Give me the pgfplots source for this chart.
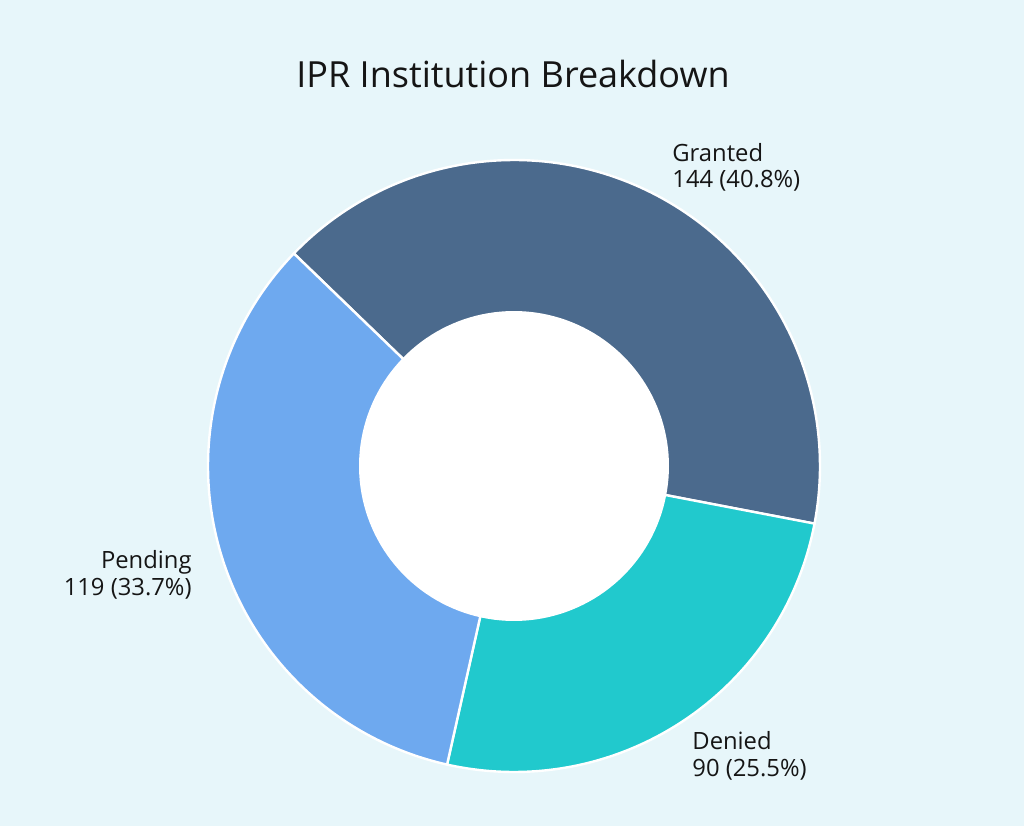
\documentclass[border=0pt]{standalone}
\usepackage{pgfplots}
\pgfplotsset{compat=1.18}
\usepackage{fontspec}
\setmainfont{Open Sans}
\definecolor{bg}{HTML}{E7F6FA}
\definecolor{cG}{HTML}{4B6A8D}
\definecolor{cP}{HTML}{6EA9EF}
\definecolor{cD}{HTML}{21C9CD}
\definecolor{txt}{HTML}{151515}
% data
\def\vGranted{144}
\def\vDenied{90}
\def\vPending{119}
\pgfmathsetmacro\total{\vGranted+\vDenied+\vPending}
\pgfmathsetmacro\aA{136}
\pgfmathsetmacro\aB{\aA-\vGranted/\total*360}
\pgfmathsetmacro\aC{\aB-\vDenied/\total*360}
\pgfmathsetmacro\aD{\aC-\vPending/\total*360}
\def\cx{514}
\def\cy{360}
\def\R{306}
\def\r{155}
\begin{document}
\begin{tikzpicture}
\begin{axis}[
  width=512pt, height=413pt, scale only axis,
  xmin=0, xmax=1024, ymin=0, ymax=826,
  hide axis, clip=false,
]
\fill[bg] (rel axis cs:0,0) rectangle (rel axis cs:1,1);
\addplot[fill=cG, draw=white, line width=1.2pt, domain=\aB:\aA, samples=120, variable=\t]
  ({\cx+\R*cos(t)},{\cy+\R*sin(t)}) -- (axis cs:\cx,\cy) -- cycle;
\addplot[fill=cD, draw=white, line width=1.2pt, domain=\aC:\aB, samples=120, variable=\t]
  ({\cx+\R*cos(t)},{\cy+\R*sin(t)}) -- (axis cs:\cx,\cy) -- cycle;
\addplot[fill=cP, draw=white, line width=1.2pt, domain=\aD:\aC, samples=120, variable=\t]
  ({\cx+\R*cos(t)},{\cy+\R*sin(t)}) -- (axis cs:\cx,\cy) -- cycle;
\addplot[fill=white, draw=none, domain=0:360, samples=160, variable=\t]
  ({\cx+\r*cos(t)},{\cy+\r*sin(t)}) -- cycle;
\node[anchor=base, text=txt, font=\fontsize{18pt}{21pt}\selectfont, inner sep=0pt] at (axis cs:513,738) {IPR Institution Breakdown};
\begin{scope}[every node/.style={text=txt, font=\fontsize{11.9pt}{14pt}\selectfont, inner sep=0pt}]
\node[anchor=base west] at (axis cs:672,664) {Granted};
\node[anchor=base west] at (axis cs:672,638) {144 (40.8\%)};
\node[anchor=base east] at (axis cs:192,257) {Pending};
\node[anchor=base east] at (axis cs:192,230) {119 (33.7\%)};
\node[anchor=base west] at (axis cs:692,77) {Denied};
\node[anchor=base west] at (axis cs:692,50) {90 (25.5\%)};
\end{scope}
\end{axis}
\end{tikzpicture}
\end{document}
